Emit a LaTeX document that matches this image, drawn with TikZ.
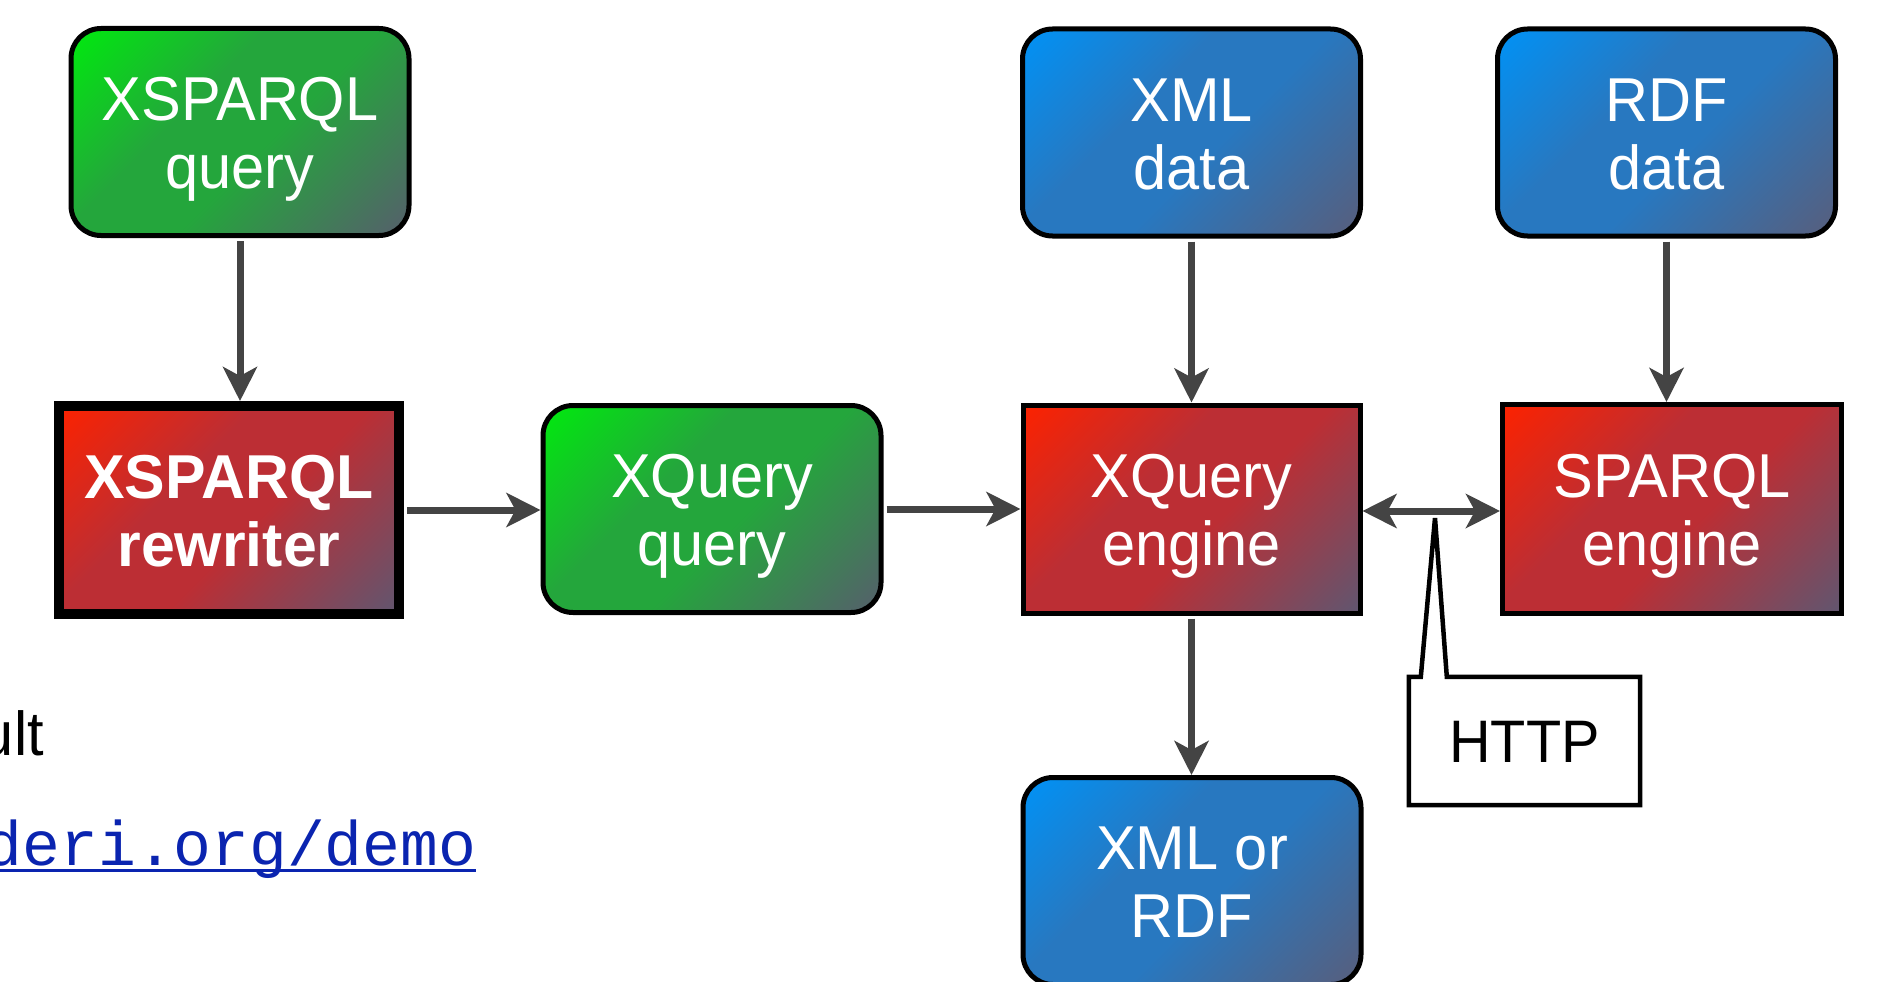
\documentclass[tikz,border=0pt]{standalone}
\usepackage{fontspec}
\setmainfont{Liberation Sans}[FakeStretch=0.96, BoldFeatures={FakeStretch=0.98}]
\setmonofont{Liberation Mono}
\usetikzlibrary{arrows.meta,calc}

\definecolor{gT}{RGB}{0,234,14}
\definecolor{gM}{RGB}{36,166,60}
\definecolor{gB}{RGB}{86,94,108}
\definecolor{rT}{RGB}{252,34,0}
\definecolor{rM}{RGB}{188,46,52}
\definecolor{rB}{RGB}{96,86,112}
\definecolor{bT}{RGB}{0,146,246}
\definecolor{bM}{RGB}{40,120,192}
\definecolor{bB}{RGB}{88,94,124}
\definecolor{arrowgray}{RGB}{68,68,68}
\definecolor{urlblue}{RGB}{10,36,176}

\pgfdeclareverticalshading{greenshade}{100bp}{color(0bp)=(gB); color(14.6bp)=(gB); color(45bp)=(gM); color(60bp)=(gM); color(85.4bp)=(gT); color(100bp)=(gT)}
\pgfdeclareverticalshading{redshade}{100bp}{color(0bp)=(rB); color(14.6bp)=(rB); color(45bp)=(rM); color(60bp)=(rM); color(85.4bp)=(rT); color(100bp)=(rT)}
\pgfdeclareverticalshading{blueshade}{100bp}{color(0bp)=(bB); color(14.6bp)=(bB); color(45bp)=(bM); color(60bp)=(bM); color(85.4bp)=(bT); color(100bp)=(bT)}

\tikzset{
  boxtext/.style={text=white, align=center, inner sep=0pt,
    font=\fontsize{62}{68}\selectfont, text height=113pt, text depth=0pt},
  roundbox/.style={boxtext, draw=black, line width=5pt, rounded corners=30pt,
    minimum width=338pt, minimum height=207pt, shade, shading angle=45},
  rectbox/.style={boxtext, draw=black, line width=5pt,
    minimum width=337pt, minimum height=208pt, shade, shading angle=45},
  greenfill/.style={shading=greenshade},
  redfill/.style={shading=redshade},
  bluefill/.style={shading=blueshade},
  conn/.style={draw=arrowgray, line width=7pt, shorten <=3pt,
    -{Stealth[length=34pt,width=34pt,inset=9pt]}},
  biconn/.style={draw=arrowgray, line width=7pt,
    {Stealth[length=34pt,width=34pt,inset=9pt]}-{Stealth[length=34pt,width=34pt,inset=9pt]}},
  callout/.style={draw=black, line width=4.5pt, fill=white, line join=miter},
}

\begin{document}
\begin{tikzpicture}[x=1pt,y=-1pt]
\path[use as bounding box] (0,0) rectangle (1890,982);
\clip (0,0) rectangle (1890,982);
\fill[white] (0,0) rectangle (1890,982);

% fragments of slide text at the left edge
\node[anchor=base east, inner sep=0pt, font=\fontsize{62}{68}\selectfont] (ult) at (44,755) {ult};
\node[anchor=base west, inner sep=0pt, text=urlblue, font=\ttfamily\fontsize{63}{63}\selectfont] (url) at (-15.4,865) {deri.org/demo};
\draw[urlblue, line width=3pt] ($(url.base west)+(0,5)$) -- ($(url.base east)+(0,5)$);

% nodes
\node[roundbox, greenfill] (xq)  at (240,132)    {XSPARQL\\query};
\node[boxtext, draw=black, line width=10pt, minimum width=340pt, minimum height=208pt,
      shade, shading angle=45, redfill, font=\bfseries\fontsize{62}{68}\selectfont] (rw) at (229,510) {XSPARQL\\rewriter};
\node[roundbox, greenfill] (xqq) at (712,509)    {XQuery\\query};
\node[rectbox, redfill]    (xe)  at (1191.5,509) {XQuery\\engine};
\node[rectbox, redfill, minimum width=339pt, minimum height=209pt] (se) at (1672,509) {SPARQL\\engine};
\node[roundbox, bluefill]  (xml) at (1191.5,132.5) {XML\\data};
\node[roundbox, bluefill]  (rdf) at (1666.5,132.5) {RDF\\data};
\node[roundbox, bluefill]  (out) at (1192,881)   {XML or\\RDF};

% connectors
\draw[conn] (xq.south) -- (xq.south |- rw.north);
\draw[conn] (rw.east) -- (rw.east -| xqq.west);
\draw[conn] (xqq.east) -- (xqq.east -| xe.west);
\draw[conn] (xml.south) -- (xml.south |- xe.north);
\draw[conn] (rdf.south) -- (rdf.south |- se.north);
\draw[conn] (xe.south) -- (xe.south |- out.north);
\draw[biconn] ($(xe.east)+(0,2)$) -- ($(se.west)+(0,2)$);

% HTTP callout
\node[inner sep=0pt, minimum width=231pt, minimum height=128pt] (http) at (1524.5,741) {};
\coordinate (tip) at (1435,518);
\draw[callout] (http.south west) -- (http.north west) -- ($(http.north west)+(12,0)$)
  -- (tip) -- ($(http.north west)+(38,0)$) -- (http.north east) -- (http.south east) -- cycle;
\node[inner sep=0pt, font=\fontsize{60}{60}\selectfont, text height=43pt, text depth=0pt] (httplabel) at (http.center) {HTTP};
\end{tikzpicture}
\end{document}
